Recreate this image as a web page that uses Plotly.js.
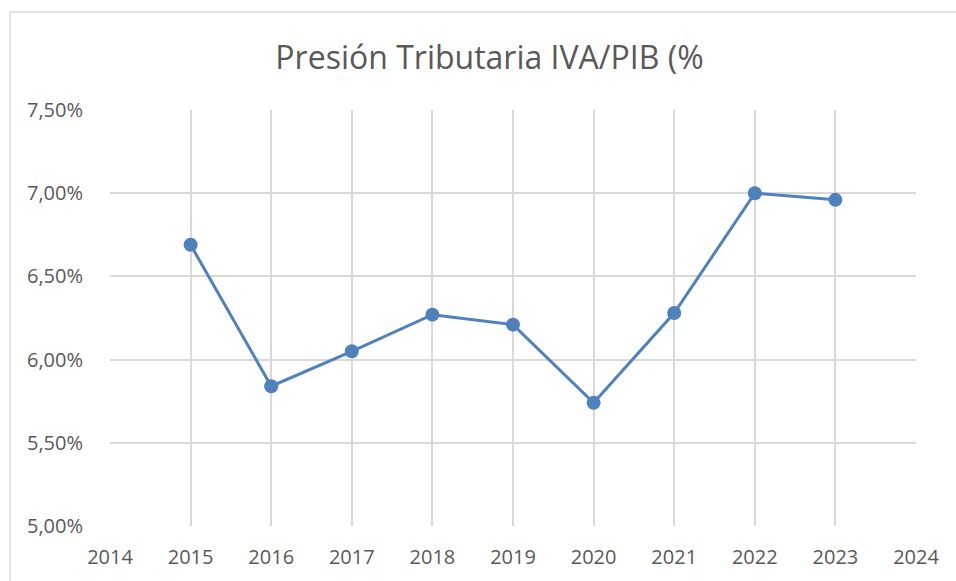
<!DOCTYPE html>
<html>
<head>
<meta charset="utf-8">
<script src="https://cdn.plot.ly/plotly-3.0.1.min.js"></script>
<style>
html,body{margin:0;padding:0;background:#fff;}
#chart{width:956px;height:581px;}
</style>
</head>
<body>
<div id="chart"></div>
<script>
const years = [2015, 2016, 2017, 2018, 2019, 2020, 2021, 2022, 2023];
const ivaPib = [6.69, 5.84, 6.05, 6.27, 6.21, 5.74, 6.28, 7.00, 6.96];
const titleText = "Presión Tributaria IVA/PIB (%";

const txt = '#595959';
const grid = '#d9d9d9';
const fontFam = '"Open Sans", "Noto Sans", sans-serif';

const trace = {
  x: years,
  y: ivaPib,
  type: 'scatter',
  mode: 'lines+markers',
  line: {color: '#4f81bd', width: 3},
  marker: {color: '#4f81bd', size: 14},
  hoverinfo: 'x+y',
  showlegend: false
};

const layout = {
  width: 956,
  height: 581,
  margin: {l: 110, r: 40, t: 110, b: 55},
  paper_bgcolor: '#ffffff',
  plot_bgcolor: '#ffffff',
  font: {family: fontFam, color: txt, size: 20},
  separators: ',.',
  title: {
    text: titleText,
    font: {family: fontFam, size: 32, color: txt},
    x: 489.5 / 956,
    xanchor: 'center',
    y: 1 - 58 / 581,
    yanchor: 'middle'
  },
  xaxis: {
    range: [2014, 2024],
    dtick: 1,
    tick0: 2014,
    tickformat: 'd',
    showgrid: true,
    gridcolor: grid,
    gridwidth: 2,
    zeroline: false,
    showline: false,
    ticks: 'outside',
    ticklen: 13,
    tickcolor: 'rgba(0,0,0,0)',
    tickfont: {family: fontFam, size: 20, color: txt},
    fixedrange: true
  },
  yaxis: {
    range: [5, 7.5],
    dtick: 0.5,
    tick0: 5,
    tickformat: '.2f',
    ticksuffix: '%',
    showgrid: true,
    gridcolor: grid,
    gridwidth: 2,
    zeroline: false,
    showline: false,
    ticks: 'outside',
    ticklen: 22,
    tickcolor: 'rgba(0,0,0,0)',
    tickfont: {family: fontFam, size: 20, color: txt},
    fixedrange: true
  },
  shapes: [
    {type: 'line', xref: 'paper', yref: 'paper',
     x0: (10 - 110) / 806, x1: (956 - 110) / 806,
     y0: 1 + (110 - 12) / 416, y1: 1 + (110 - 12) / 416,
     line: {color: grid, width: 1.5}},
    {type: 'line', xref: 'paper', yref: 'paper',
     x0: (10 - 110) / 806, x1: (10 - 110) / 806,
     y0: 1 + (110 - 12) / 416, y1: (526 - 581) / 416,
     line: {color: grid, width: 1.5}}
  ]
};

Plotly.newPlot('chart', [trace], layout, {displayModeBar: false, staticPlot: true});
</script>
</body>
</html>
